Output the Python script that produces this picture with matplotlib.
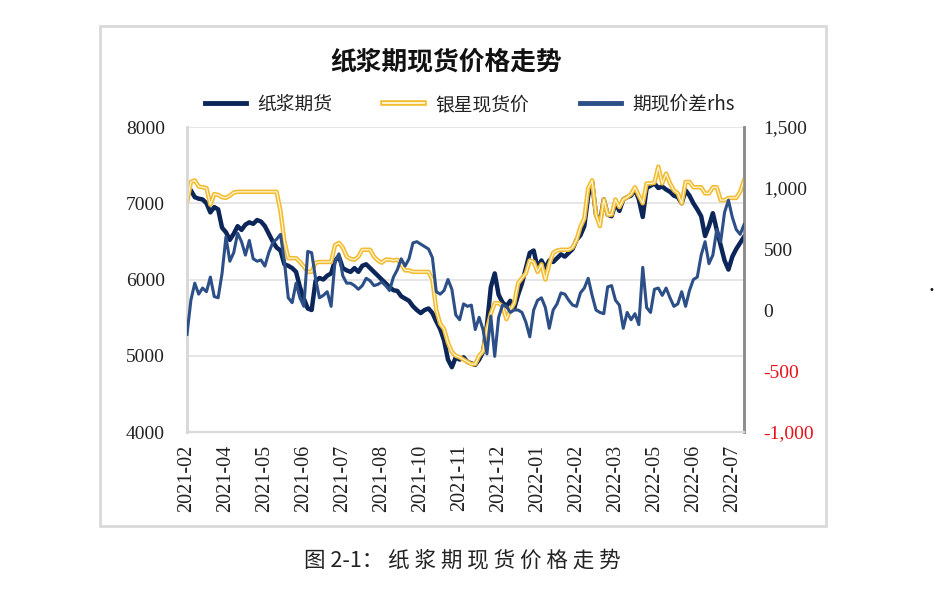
import numpy as np
import matplotlib.pyplot as plt
from matplotlib.patches import Rectangle
from matplotlib.lines import Line2D
from matplotlib.legend_handler import HandlerTuple
from matplotlib.ticker import FuncFormatter

# data (about every 2 trading days)
futures = [7150, 7170, 7080, 7060, 7050, 7000, 6880, 6950, 6920, 6680,
           6620, 6520, 6600, 6700, 6650, 6720, 6750, 6730, 6780, 6760,
           6700, 6600, 6500, 6420, 6380, 6200, 6180, 6150, 6100, 5900,
           5750, 5620, 5600, 5980, 6020, 6000, 6050, 6080, 6250, 6300,
           6150, 6120, 6100, 6150, 6100, 6180, 6200, 6150, 6100, 6050,
           6000, 5950, 5900, 5860, 5850, 5780, 5750, 5720, 5650, 5600,
           5560, 5600, 5620, 5560, 5450, 5350, 5200, 4950, 4850, 4980,
           4950, 4980, 4920, 4900, 4880, 4950, 5050, 5400, 5900, 6080,
           5800, 5700, 5650, 5720, 5620, 5800, 5950, 6150, 6350, 6380,
           6150, 6250, 6150, 6250, 6230, 6280, 6330, 6300, 6350, 6400,
           6520, 6580, 6700, 7100, 7280, 6850, 6750, 7050, 6850, 6830,
           7000, 6900, 7050, 7080, 7100, 7180, 7050, 6820, 7200, 7230,
           7260, 7200, 7220, 7180, 7150, 7100, 7080, 7000, 7170, 7100,
           7000, 6920, 6830, 6570, 6700, 6870, 6650, 6450, 6250, 6130,
           6300, 6400, 6480, 6560]

spot = [7000, 7280, 7300, 7220, 7210, 7200, 6980, 7120, 7110, 7080,
        7070, 7100, 7140, 7150, 7150, 7150, 7150, 7150, 7150, 7150,
        7150, 7150, 7150, 7150, 6900, 6500, 6280, 6280, 6280, 6230,
        6170, 6100, 6100, 6220, 6230, 6230, 6230, 6230, 6450, 6480,
        6420, 6300, 6270, 6260, 6300, 6390, 6390, 6390, 6300, 6250,
        6220, 6260, 6260, 6250, 6260, 6200, 6120, 6120, 6100, 6100,
        6100, 6100, 6100, 6000, 5600, 5420, 5350, 5170, 5050, 5000,
        4980, 4950, 4920, 4890, 4890, 5000, 5060, 5350, 5550, 5690,
        5690, 5650, 5480, 5600, 5690, 5950, 6020, 6080, 6250, 6230,
        6100, 6200, 6000, 6200, 6350, 6380, 6390, 6390, 6390, 6420,
        6520, 6690, 6800, 7200, 7300, 6850, 6700, 7050, 6850, 6850,
        7050, 6950, 7050, 7080, 7120, 7210, 7100, 7000, 7260, 7260,
        7270, 7480, 7260, 7390, 7260, 7170, 7130, 7000, 7280, 7280,
        7210, 7210, 7210, 7130, 7130, 7210, 7210, 7040, 7040, 7070,
        7070, 7070, 7150, 7300]

spread = [-200, 80, 220, 130, 180, 150, 270, 110, 100, 300,
          600, 400, 470, 630, 560, 450, 570, 420, 400, 410,
          360, 470, 550, 580, 620, 400, 100, 60, 220, 100,
          30, 480, 470, 260, 100, 120, 150, 30, 400, 460,
          280, 220, 220, 200, 170, 200, 260, 240, 200, 210,
          230, 200, 160, 270, 330, 420, 360, 420, 550, 560,
          540, 520, 500, 430, 150, 130, 160, 250, 170, -40,
          -80, 50, 30, 40, -160, -60, -160, -360, -50, -380,
          -60, 40, 30, -20, 0, 0, -20, -100, -220, 0,
          80, 100, 20, -150, 0, 50, 140, 130, 80, 40,
          30, 140, 180, 260, 120, 0, -20, -30, 190, 200,
          80, 40, -150, -20, -80, -30, -120, 350, 20, -20,
          170, 180, 120, 180, 100, 30, 50, 150, 30, 160,
          250, 270, 450, 560, 380, 450, 660, 560, 800, 900,
          760, 660, 620, 700]

tick_labels = ['2021-02', '2021-04', '2021-05', '2021-06', '2021-07',
               '2021-08', '2021-10', '2021-11', '2021-12', '2022-01',
               '2022-02', '2022-03', '2022-05', '2022-06', '2022-07']

cjk = ['Noto Sans CJK SC', 'DejaVu Sans']
serif = 'Liberation Serif'

x = np.arange(len(futures))

fig = plt.figure(figsize=(9.34, 5.93), dpi=100)
fig.patch.set_facecolor('white')

# outer frame of the chart
fig.patches.append(Rectangle((0.1071, 0.1130), 0.7773, 0.8432, transform=fig.transFigure,
                             fill=False, edgecolor='#d9d9d9', linewidth=2))

ax = fig.add_axes([0.2002, 0.2715, 0.5964, 0.5143])
ax2 = ax.twinx()

ax.plot(x, futures, color='#0c2659', linewidth=3.2, zorder=3)
ax.plot(x, spot, color='#f2bb30', linewidth=3.2, zorder=4)
ax.plot(x, spot, color='#fff6d6', linewidth=0.9, zorder=5)
ax2.plot(x, spread, color='#2b4f86', linewidth=2.2, zorder=3)

ax.set_xlim(0, len(futures) - 1)
ax.set_ylim(4000, 8000)
ax.set_yticks([4000, 5000, 6000, 7000, 8000])
ax2.set_ylim(-1000, 1500)
ax2.set_yticks([-1000, -500, 0, 500, 1000, 1500])
ax2.yaxis.set_major_formatter(FuncFormatter(lambda v, p: f'{int(v):,}'))

ax.set_xticks(np.arange(len(tick_labels)) * 10)
ax.set_xticklabels(tick_labels, rotation=90, fontsize=14.5, family=serif, color='#222222')
ax.tick_params(axis='x', length=0, pad=9)
ax.tick_params(axis='y', length=0, pad=16, labelsize=14, labelcolor='#222222')
ax2.tick_params(axis='y', length=0, pad=14, labelsize=14)
for t in ax.get_yticklabels():
    t.set_family(serif)
for t in ax2.get_yticklabels():
    t.set_family(serif)
for t, v in zip(ax2.get_yticklabels(), ax2.get_yticks()):
    t.set_color('#e8101a' if v < 0 else '#222222')

ax.grid(axis='y', color='#e4e4e4', linewidth=1.3)
ax.set_axisbelow(True)
for a in (ax, ax2):
    a.spines['top'].set_visible(False)
    a.spines['left'].set_color('#d9d9d9')
    a.spines['left'].set_linewidth(2)
    a.spines['bottom'].set_color('#d9d9d9')
    a.spines['bottom'].set_linewidth(1.5)
    a.spines['right'].set_color('#8c8c8c')
    a.spines['right'].set_linewidth(1.8)

fig.text(0.478, 0.895, '纸浆期现货价格走势', ha='center', va='center',
         fontsize=18.5, fontweight='bold', family=cjk, color='#111111')

# legend
h_spot = (Line2D([], [], color='#f2bb30', linewidth=4), Line2D([], [], color='#fff6d6', linewidth=1.4))
leg = fig.legend([Line2D([], [], color='#0c2659', linewidth=3.5), h_spot,
                  Line2D([], [], color='#2b4f86', linewidth=3.5)],
                 ['纸浆期货', '银星现货价', '期现价差rhs'],
                 handler_map={tuple: HandlerTuple(ndivide=1)},
                 loc='center', bbox_to_anchor=(0.503, 0.824), ncol=3, frameon=False,
                 prop={'family': cjk, 'size': 13.5}, handlelength=2.2,
                 handletextpad=0.6, columnspacing=2.7)
for t in leg.get_texts():
    t.set_color('#222222')

fig.text(0.495, 0.054, '图 2-1： 纸 浆 期 现 货 价 格 走 势', ha='center', va='center',
         fontsize=15.5, family=cjk, color='#222222')
fig.text(0.997, 0.511, '•', ha='center', va='center', fontsize=7, color='#111111')

fig.savefig('out.png', dpi=100)
